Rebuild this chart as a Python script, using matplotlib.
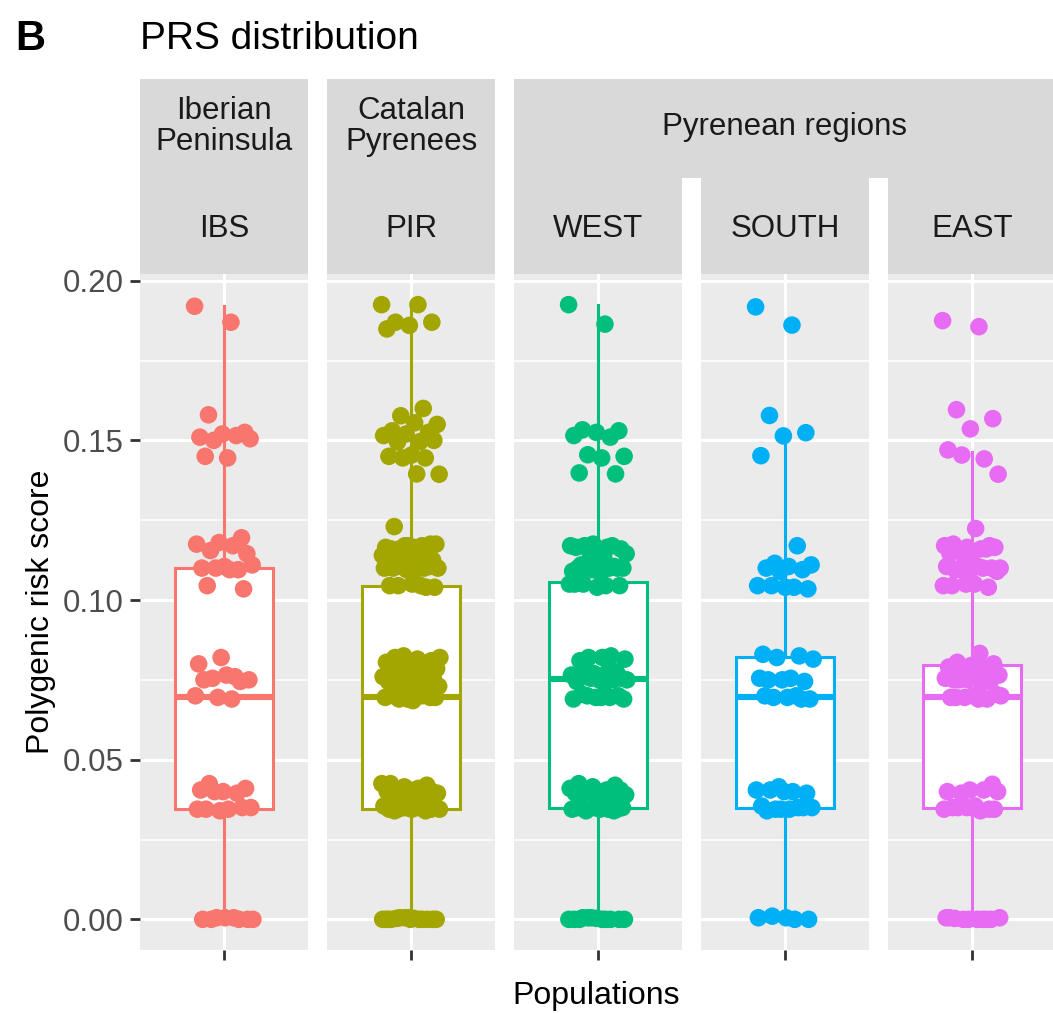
import numpy as np
import matplotlib.pyplot as plt

plt.rcParams['font.family'] = ['Liberation Sans', 'DejaVu Sans']

# ---- данные ----
populations = ['IBS', 'PIR', 'WEST', 'SOUTH', 'EAST']
upper_labels = ['Iberian\nPeninsula', 'Catalan\nPyrenees', 'Pyrenean regions']
colors = ['#F8766D', '#A3A500', '#00BF7D', '#00B0F6', '#E76BF3']

# статистика боксплотов
q1 = [0.0345, 0.0345, 0.0350, 0.0350, 0.0350]
med = [0.0697, 0.0697, 0.0752, 0.0697, 0.0697]
q3 = [0.1100, 0.1045, 0.1058, 0.0823, 0.0798]
whis_lo = [0.0, 0.0, 0.0, 0.0, 0.0]
whis_hi = [0.1920, 0.1925, 0.1925, 0.1518, 0.1465]

prs_ibs = [0.192, 0.187,
           0.158, 0.1525, 0.152, 0.151, 0.1515, 0.150, 0.1505, 0.1445, 0.145,
           0.1195, 0.118, 0.1175, 0.117, 0.1155, 0.1145, 0.1105, 0.110, 0.1095, 0.110,
           0.111, 0.1095, 0.1045, 0.1035,
           0.082, 0.080, 0.076, 0.0755, 0.075, 0.0765, 0.075, 0.0745, 0.0695, 0.0700, 0.069,
           0.0425, 0.041, 0.040, 0.0405, 0.0395, 0.040, 0.035, 0.0345, 0.0345, 0.035, 0.034, 0.0345,
           0.0005, 0.0, 0.0, 0.0005, 0.0, 0.0, 0.0005, 0.0]

prs_pir = [0.1925, 0.1925, 0.187, 0.187, 0.186, 0.1849,
           0.160, 0.1577, 0.155, 0.1555, 0.153, 0.1525, 0.152, 0.1515, 0.1496, 0.1495, 0.150,
           0.1454, 0.145, 0.1445, 0.1445, 0.1394, 0.1395,
           0.123,
           0.1175, 0.117, 0.1165, 0.117, 0.116, 0.1175, 0.1165, 0.116, 0.1155, 0.117,
           0.114, 0.1135, 0.113, 0.1125, 0.1135, 0.111, 0.110, 0.1105, 0.110, 0.1095,
           0.110, 0.1105, 0.1095, 0.110, 0.1045, 0.1045, 0.104, 0.105, 0.1045, 0.104,
           0.0825, 0.082, 0.0815, 0.082, 0.081, 0.080, 0.0805, 0.080, 0.0795, 0.0785,
           0.078, 0.0775, 0.077, 0.0765, 0.076, 0.0755, 0.075, 0.0755, 0.075, 0.0745,
           0.074, 0.0735, 0.073, 0.0705, 0.070, 0.0695, 0.069, 0.0695, 0.070, 0.069,
           0.0695, 0.0685,
           0.0425, 0.042, 0.0415, 0.0425, 0.041, 0.0405, 0.040, 0.0405, 0.040, 0.0395,
           0.039, 0.0395, 0.039, 0.0385, 0.038, 0.035, 0.0355, 0.035, 0.0345, 0.035,
           0.0345, 0.0345, 0.034, 0.035, 0.0345, 0.035, 0.034, 0.0345,
           0.0005, 0.0, 0.0, 0.0005, 0.0, 0.0003, 0.0, 0.0, 0.0005, 0.0, 0.0, 0.0003,
           0.0, 0.0, 0.0]

prs_west = [0.1925, 0.1864,
            0.1533, 0.153, 0.1525, 0.1515, 0.151, 0.1455, 0.145, 0.1445, 0.1398, 0.1395,
            0.1175, 0.117, 0.1165, 0.117, 0.116, 0.1155, 0.1165, 0.117, 0.115, 0.1145,
            0.1135, 0.111, 0.110, 0.1105, 0.109, 0.110, 0.1095, 0.110, 0.1085, 0.110,
            0.1105, 0.1095, 0.105, 0.1045, 0.105, 0.1045, 0.104, 0.105,
            0.0825, 0.082, 0.0815, 0.082, 0.081, 0.0775, 0.077, 0.0765, 0.0775, 0.077,
            0.0755, 0.075, 0.0745, 0.075, 0.0755, 0.075, 0.074, 0.0705, 0.070, 0.0695,
            0.069, 0.0695, 0.070, 0.069, 0.0695,
            0.0425, 0.042, 0.0415, 0.041, 0.0405, 0.040, 0.0405, 0.040, 0.0395, 0.039,
            0.0395, 0.039, 0.0355, 0.035, 0.0345, 0.035, 0.0345, 0.0345, 0.034, 0.035,
            0.0345, 0.035, 0.034,
            0.0005, 0.0, 0.0, 0.0005, 0.0, 0.0003, 0.0, 0.0, 0.0005, 0.0, 0.0, 0.0]

prs_south = [0.1918, 0.1861, 0.1578, 0.1524, 0.1514, 0.1452,
             0.117, 0.1115, 0.111, 0.1105, 0.110, 0.1095, 0.109, 0.1045, 0.104, 0.1045,
             0.1035, 0.104,
             0.083, 0.0825, 0.082, 0.0815, 0.0755, 0.075, 0.0745, 0.075, 0.0755, 0.070,
             0.0695, 0.069, 0.0695, 0.070, 0.069,
             0.0415, 0.0405, 0.040, 0.0405, 0.0395, 0.040, 0.0355, 0.035, 0.0345, 0.035,
             0.0345, 0.034, 0.035, 0.0345,
             0.0005, 0.0, 0.001, 0.0, 0.0005]

prs_east = [0.1875, 0.1856, 0.1596, 0.1568, 0.1536, 0.147, 0.1442, 0.1454, 0.1394, 0.1224,
            0.1175, 0.117, 0.1165, 0.117, 0.116, 0.1155, 0.1165, 0.115, 0.1145, 0.116,
            0.111, 0.110, 0.1105, 0.1095, 0.110, 0.109, 0.1105, 0.110, 0.1095, 0.109,
            0.105, 0.1045, 0.104, 0.105, 0.1045,
            0.0833, 0.0805, 0.080, 0.0795, 0.079, 0.0785, 0.0775, 0.0765, 0.0755, 0.075,
            0.0745, 0.075, 0.0755, 0.074, 0.075, 0.0705, 0.070, 0.0695, 0.069, 0.0695,
            0.070, 0.069, 0.0695,
            0.0423, 0.0405, 0.040, 0.0405, 0.0395, 0.040, 0.0355, 0.035, 0.0345, 0.035,
            0.0345, 0.034, 0.035, 0.0345, 0.035,
            0.0005, 0.0, 0.0, 0.0005, 0.0, 0.0003, 0.0, 0.0, 0.0005, 0.0]

prs_values = [prs_ibs, prs_pir, prs_west, prs_south, prs_east]

# ---- геометрия (пиксели) ----
W, H = 1053, 1013
panel_x0 = [140, 327, 514, 701, 888]
panel_w = 168
panel_top, panel_bot = 274, 950
strip_top, strip_mid = 79, 177


def rect(x0, y0, x1, y1):
    # пиксели (от верхнего левого угла) -> доли фигуры
    return [x0 / W, 1 - y1 / H, (x1 - x0) / W, (y1 - y0) / H]


fig = plt.figure(figsize=(W / 100, H / 100), dpi=100)

for i, pop in enumerate(populations):
    x0 = panel_x0[i]
    ax = fig.add_axes(rect(x0, panel_top, x0 + panel_w, panel_bot))
    ax.set_facecolor('#EBEBEB')
    ax.set_xlim(0.4, 1.6)
    ax.set_ylim(-0.0096, 0.2021)
    for s in ax.spines.values():
        s.set_visible(False)
    ax.set_yticks([0.0, 0.05, 0.10, 0.15, 0.20])
    ax.set_yticks([0.025, 0.075, 0.125, 0.175], minor=True)
    ax.set_xticks([1.0])
    ax.set_xticklabels([''])
    ax.grid(which='major', color='white', linewidth=2.2)
    ax.grid(which='minor', axis='y', color='white', linewidth=1.1)
    ax.set_axisbelow(True)
    ax.tick_params(axis='both', which='major', length=7, width=2.0, color='#333333',
                   labelsize=22.5, labelcolor='#4D4D4D', pad=5)
    ax.tick_params(axis='y', which='minor', length=0)
    if i == 0:
        ax.set_yticklabels(['0.00', '0.05', '0.10', '0.15', '0.20'])
    else:
        ax.tick_params(axis='y', which='major', length=0, labelleft=False)

    c = colors[i]
    stats = [dict(q1=q1[i], med=med[i], q3=q3[i], whislo=whis_lo[i], whishi=whis_hi[i], fliers=[])]
    ax.bxp(stats, positions=[1.0], widths=0.7, patch_artist=True, showcaps=False,
           boxprops=dict(facecolor='white', edgecolor=c, linewidth=2.2),
           medianprops=dict(color=c, linewidth=4.4, solid_capstyle='butt'),
           whiskerprops=dict(color=c, linewidth=2.2), manage_ticks=False)

    yv = np.array(prs_values[i])
    # детерминированный джиттер по x
    jit = ((np.arange(len(yv)) * 0.6180339887) % 1.0 - 0.5) * 0.42
    ax.scatter(1.0 + jit, yv, s=160, color=c, edgecolors='none', zorder=4)

    # нижняя полоса с названием популяции
    sax = fig.add_axes(rect(x0, strip_mid, x0 + panel_w, panel_top))
    sax.set_facecolor('#D9D9D9')
    sax.set_xticks([])
    sax.set_yticks([])
    for s in sax.spines.values():
        s.set_visible(False)
    sax.text(0.5, 0.5, pop, ha='center', va='center_baseline', fontsize=22.5, color='#1A1A1A',
             transform=sax.transAxes)

# верхние полосы
upper_spans = [(panel_x0[0], panel_x0[0] + panel_w),
               (panel_x0[1], panel_x0[1] + panel_w),
               (panel_x0[2], panel_x0[4] + panel_w)]
for lab, (xa, xb) in zip(upper_labels, upper_spans):
    uax = fig.add_axes(rect(xa, strip_top, xb, strip_mid + 1))
    uax.set_facecolor('#D9D9D9')
    uax.set_xticks([])
    uax.set_yticks([])
    for s in uax.spines.values():
        s.set_visible(False)
    uax.text(0.5, 0.52, lab, ha='center', va='center', fontsize=22.5, color='#1A1A1A',
             linespacing=1.08, transform=uax.transAxes)

# подписи
fig.text(15 / W, 1 - 39 / H, 'B', fontsize=30, fontweight='bold', ha='left', va='center')
fig.text(140 / W, 1 - 39 / H, 'PRS distribution', fontsize=28, ha='left', va='center')
fig.text((140 + 1053) / 2 / W, 1 - 996 / H, 'Populations', fontsize=23, ha='center', va='center')
fig.text(41 / W, 1 - 612 / H, 'Polygenic risk score', fontsize=23, rotation=90,
         ha='center', va='center')

fig.savefig('out.png', dpi=100)
